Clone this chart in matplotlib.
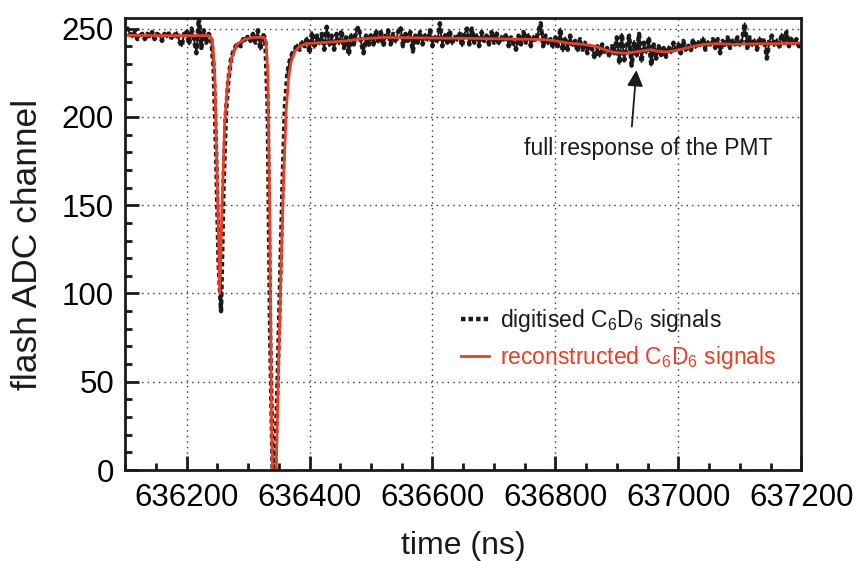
import numpy as np
import matplotlib.pyplot as plt
from matplotlib.ticker import MultipleLocator

plt.rcParams['font.family'] = ['Liberation Sans', 'DejaVu Sans']
plt.rcParams['mathtext.fontset'] = 'custom'
plt.rcParams['mathtext.rm'] = 'Liberation Sans'

# digitised signal, one sample every 4 ns from 636100 ns
t0 = 636100
dt = 4
adc = [
    249, 250, 247, 245, 248, 244, 246, 247, 244, 247,
    245, 248, 244, 247, 246, 243, 247, 245, 248, 244,
    246, 248, 243, 240, 247, 249, 241, 250, 244, 236,
    256, 239, 249, 242, 247, 244, 228, 180, 118, 90,
    160, 202, 221, 232, 237, 240, 242, 240, 244, 243,
    246, 243, 247, 242, 249, 238, 247, 244, 205, 75,
    0, 0, 50, 105, 160, 206, 225, 232, 236, 238,
    241, 238, 243, 240, 245, 236, 248, 239, 246, 241,
    247, 238, 251, 240, 246, 238, 247, 241, 249, 239,
    245, 235, 247, 241, 249, 251, 242, 236, 246, 240,
    247, 241, 249, 242, 248, 240, 246, 249, 241, 247,
    242, 248, 251, 240, 247, 243, 248, 237, 246, 242,
    248, 241, 247, 243, 249, 240, 246, 242, 253, 240,
    247, 242, 249, 241, 246, 243, 248, 240, 247, 250,
    241, 250, 242, 247, 240, 248, 243, 246, 241, 248,
    242, 248, 241, 246, 243, 247, 240, 245, 241, 238,
    246, 241, 248, 242, 247, 240, 246, 243, 248, 253,
    240, 246, 241, 244, 239, 245, 240, 250, 237, 245,
    238, 246, 240, 243, 237, 244, 238, 242, 236, 241,
    238, 233, 240, 234, 241, 236, 239, 234, 240, 236,
    245, 230, 247, 232, 240, 246, 229, 243, 234, 247,
    231, 242, 236, 245, 229, 241, 233, 240, 235, 239,
    234, 240, 236, 242, 238, 241, 236, 243, 238, 241,
    237, 244, 239, 243, 240, 245, 238, 243, 241, 244,
    239, 244, 236, 243, 240, 245, 239, 244, 241, 245,
    240, 244, 253, 239, 245, 240, 244, 238, 245, 241,
    244, 233, 243, 246, 240, 244, 239, 247, 242, 248,
    240, 245, 241, 244, 240, 242,
]
t_adc = t0 + dt * np.arange(len(adc))

# reconstructed signal
t_fit = [636100, 636150, 636200, 636236, 636240, 636243, 636246, 636250, 636254,
         636257, 636262, 636267, 636273, 636282, 636294, 636310, 636326, 636329,
         636332, 636335, 636338, 636342, 636346, 636350, 636354, 636358, 636362,
         636366, 636370, 636376, 636384, 636395, 636420, 636440, 636460, 636480,
         636520, 636580, 636640, 636690, 636740, 636780, 636800, 636821, 636845,
         636865, 636880, 636895, 636915, 636935, 636955, 636968, 636980, 636995,
         637010, 637025, 637040, 637065, 637090, 637120, 637160, 637200]
y_fit = [246.2, 246, 246, 246, 245, 240, 220, 160, 100,
         140, 197, 220, 233, 241, 244, 245, 245, 243,
         225, 150, 30, -40, 5, 65, 120, 168, 204,
         222, 231, 237, 240, 241.5, 242, 242.5, 243, 244,
         245, 244.7, 244.5, 244.3, 244, 243.8, 243, 241.8, 241,
         240, 238, 236.5, 236, 237, 238, 237, 236.8, 237.5,
         238.7, 240, 241, 241.5, 241, 241.3, 241.5, 241.8]

red = '#EC3D25'
ink = '#1a1a1a'

fig = plt.figure(figsize=(8.57, 5.61), dpi=100)
ax = fig.add_axes([0.146, 0.162, 0.789, 0.806])

# thin line under the dots (only on the baseline) so the noise reads as solid
adc = np.array(adc)
ax.plot(t_adc, np.ma.masked_where(adc < 225, adc), color=ink, lw=1.4)
ax.plot(t_adc, adc, color=ink, lw=3.2, dashes=(1.0, 0.7),
        label=r'digitised C$_\mathregular{6}$D$_\mathregular{6}$ signals')
ax.plot(t_fit, y_fit, color=red, lw=2.0,
        label=r'reconstructed C$_\mathregular{6}$D$_\mathregular{6}$ signals')

ax.set_xlim(636100, 637200)
ax.set_ylim(0, 256)
ax.xaxis.set_major_locator(MultipleLocator(200))
ax.xaxis.set_minor_locator(MultipleLocator(50))
ax.yaxis.set_major_locator(MultipleLocator(50))
ax.yaxis.set_minor_locator(MultipleLocator(10))
ax.tick_params(which='both', direction='in', width=2, labelsize=22.5, color=ink)
ax.tick_params(which='major', length=10)
ax.tick_params(which='minor', length=5)
ax.tick_params(axis='x', pad=9)
ax.tick_params(axis='y', pad=8)
for s in ax.spines.values():
    s.set_linewidth(2)
    s.set_color(ink)

ax.grid(True, which='major', color='#333333', lw=1, dashes=(1, 3))

ax.set_xlabel('time (ns)', fontsize=23, labelpad=13, color=ink)
ax.set_ylabel('flash ADC channel', fontsize=25.5, labelpad=13, color=ink)

ax.legend(loc='center left', bbox_to_anchor=(450 / 857, 1 - 339 / 561),
          bbox_transform=fig.transFigure, frameon=False, fontsize=16.5,
          handlelength=1.2, handletextpad=0.5, borderpad=0, labelspacing=0.4,
          labelcolor=[ink, red])

# annotation for the PMT tail
ax.annotate('', xy=(636932, 228), xytext=(636924, 193),
            arrowprops=dict(arrowstyle='-|>', color=ink, lw=1.3, mutation_scale=24))
ax.text(636951, 182, 'full response of the PMT', fontsize=16.5, ha='center', va='center',
        color=ink)

fig.savefig('out.png', dpi=100)
